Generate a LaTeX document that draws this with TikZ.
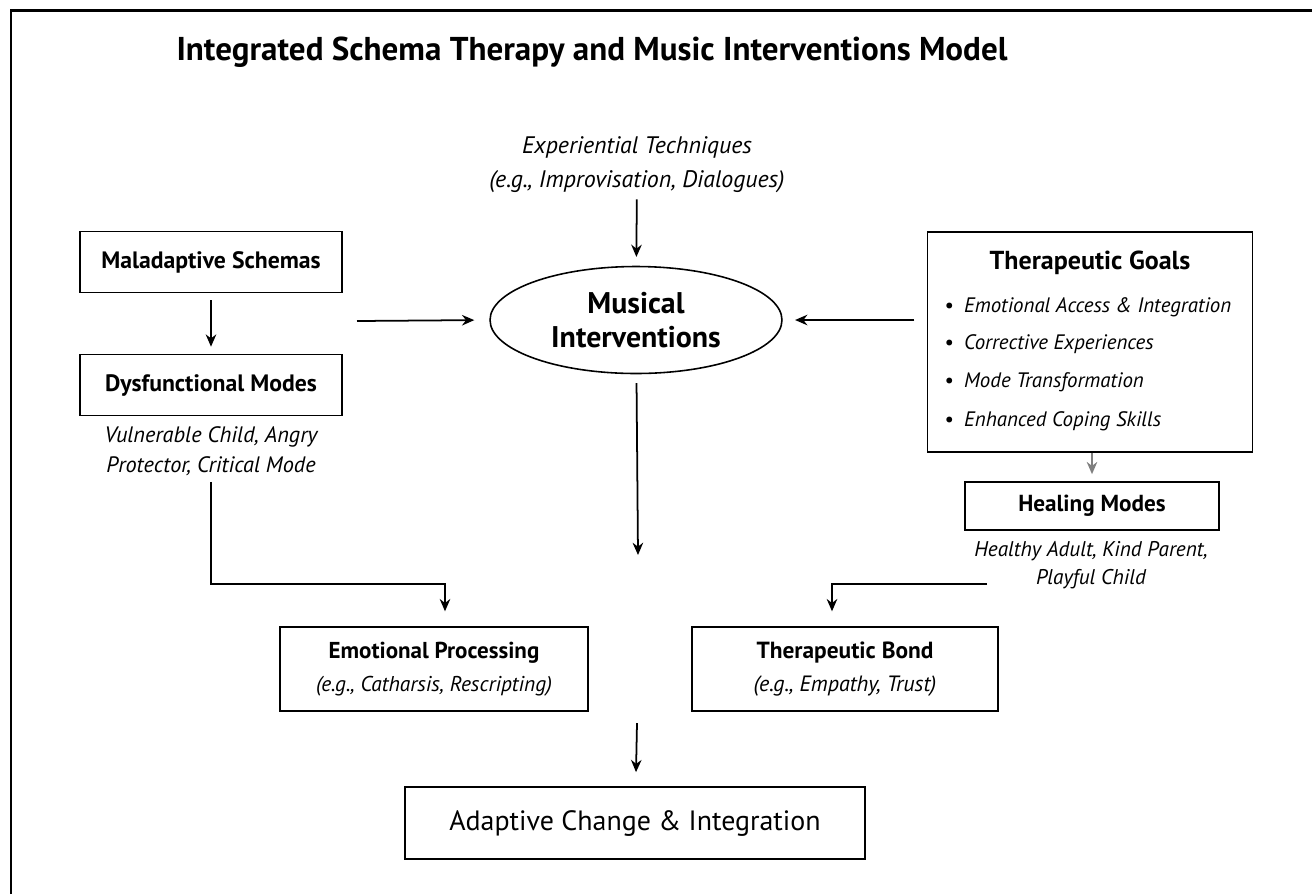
\documentclass[tikz,border=0pt]{standalone}
\usepackage{fontspec}
\setmainfont{PT Sans}
\usetikzlibrary{shapes.geometric,arrows.meta,calc}

\tikzset{
  box/.style={draw, line width=0.9pt, inner sep=0pt, align=center},
  arr/.style={-{Stealth[length=7pt,width=6pt]}, line width=1pt},
  head/.style={font=\bfseries\fontsize{13.5}{19}\selectfont},
  note/.style={align=center, font=\itshape\fontsize{12.7}{17}\selectfont},
  goalitem/.style={anchor=west, font=\itshape\fontsize{11.9}{13}\selectfont},
}

\begin{document}
\begin{tikzpicture}[x=0.02cm,y=-0.02cm]
  \useasboundingbox (0,0) rectangle (1312,894);
  % outer frame
  \draw[line width=1.7pt] (11,894) -- (11,10) -- (1312,10);

  % title
  \node[font=\bfseries\fontsize{18.8}{21}\selectfont] (title) at (592,52)
    {Integrated Schema Therapy and Music Interventions Model};

  % centre column
  \node[note, font=\itshape\fontsize{13.6}{19.4}\selectfont] (exptech) at (637,165)
    {Experiential Techniques\\(e.g., Improvisation, Dialogues)};
  \node[draw, ellipse, line width=0.9pt, inner sep=0pt, minimum width=5.84cm, minimum height=2.14cm,
    align=center, font=\bfseries\fontsize{17}{19}\selectfont] (music) at (636,320)
    {Musical\\Interventions};
  \coordinate (lin) at (357,321);
  \coordinate (mdown) at (638,555);

  % left column
  \node[box, head, minimum width=5.24cm, minimum height=1.22cm] (mal) at (211,262) {Maladaptive Schemas};
  \node[box, head, minimum width=5.24cm, minimum height=1.22cm] (dys) at (211,385) {Dysfunctional Modes};
  \node[note] (dysnote) at (211,451) {Vulnerable Child, Angry\\Protector, Critical Mode};
  \coordinate (lbend) at (445,584);

  % right column
  \node[box, minimum width=6.5cm, minimum height=4.4cm] (goals) at (1090,342) {};
  \node[font=\bfseries\fontsize{14.8}{17}\selectfont] (goalshead) at (1090,263) {Therapeutic Goals};
  \node[goalitem] (g1) at (938,307) {\textbullet\hspace{6pt}Emotional Access \& Integration};
  \node[goalitem] (g2) at (938,344) {\textbullet\hspace{6pt}Corrective Experiences};
  \node[goalitem] (g3) at (938,382) {\textbullet\hspace{6pt}Mode Transformation};
  \node[goalitem] (g4) at (938,421) {\textbullet\hspace{6pt}Enhanced Coping Skills};
  \node[box, minimum width=5.08cm, minimum height=0.96cm, font=\bfseries\fontsize{13.2}{15}\selectfont] (heal) at (1092,506) {Healing Modes};
  \node[note, font=\itshape\fontsize{12.1}{16}\selectfont] (healnote) at (1091,565) {Healthy Adult, Kind Parent,\\Playful Child};
  \coordinate (rstart) at (987,584);
  \coordinate (rbend) at (832,584);

  % lower row
  \node[box, minimum width=6.16cm, minimum height=1.68cm, font=\fontsize{12.2}{19}\selectfont] (emo) at (434,669)
    {\textbf{\fontsize{13.1}{19}\selectfont Emotional Processing}\\\textit{(e.g., Catharsis, Rescripting)}};
  \node[box, minimum width=6.12cm, minimum height=1.68cm, font=\fontsize{12.6}{19}\selectfont] (bond) at (845,669)
    {\textbf{\fontsize{13.3}{19}\selectfont Therapeutic Bond}\\\textit{(e.g., Empathy, Trust)}};
  \coordinate (brow) at (637,723);
  \node[box, minimum width=9.2cm, minimum height=1.44cm, font=\fontsize{15.9}{18}\selectfont] (adapt) at (635,823)
    {Adaptive Change \& Integration};

  % connectors
  \draw[arr, shorten >=5pt] (exptech) -- (music);
  \draw[arr, shorten >=8.5pt] (lin) -- (music.west);
  \draw[arr, shorten <=7pt, shorten >=7pt] (goals.west |- music.east) -- (music.east);
  \draw[arr, shorten <=5pt] (music) -- (mdown);
  \draw[arr, shorten <=4pt, shorten >=4pt] (mal) -- (dys);
  \draw[arr, shorten >=8.5pt] (dysnote.south) |- (lbend) -- (lbend |- emo.north);
  \draw[arr, draw=gray, shorten >=4pt] (goals.south -| heal) -- (heal);
  \draw[arr, shorten >=8.5pt] (rstart) -- (rbend) -- (rbend |- bond.north);
  \draw[arr, shorten >=8pt] (brow) -- (adapt);
\end{tikzpicture}
\end{document}
